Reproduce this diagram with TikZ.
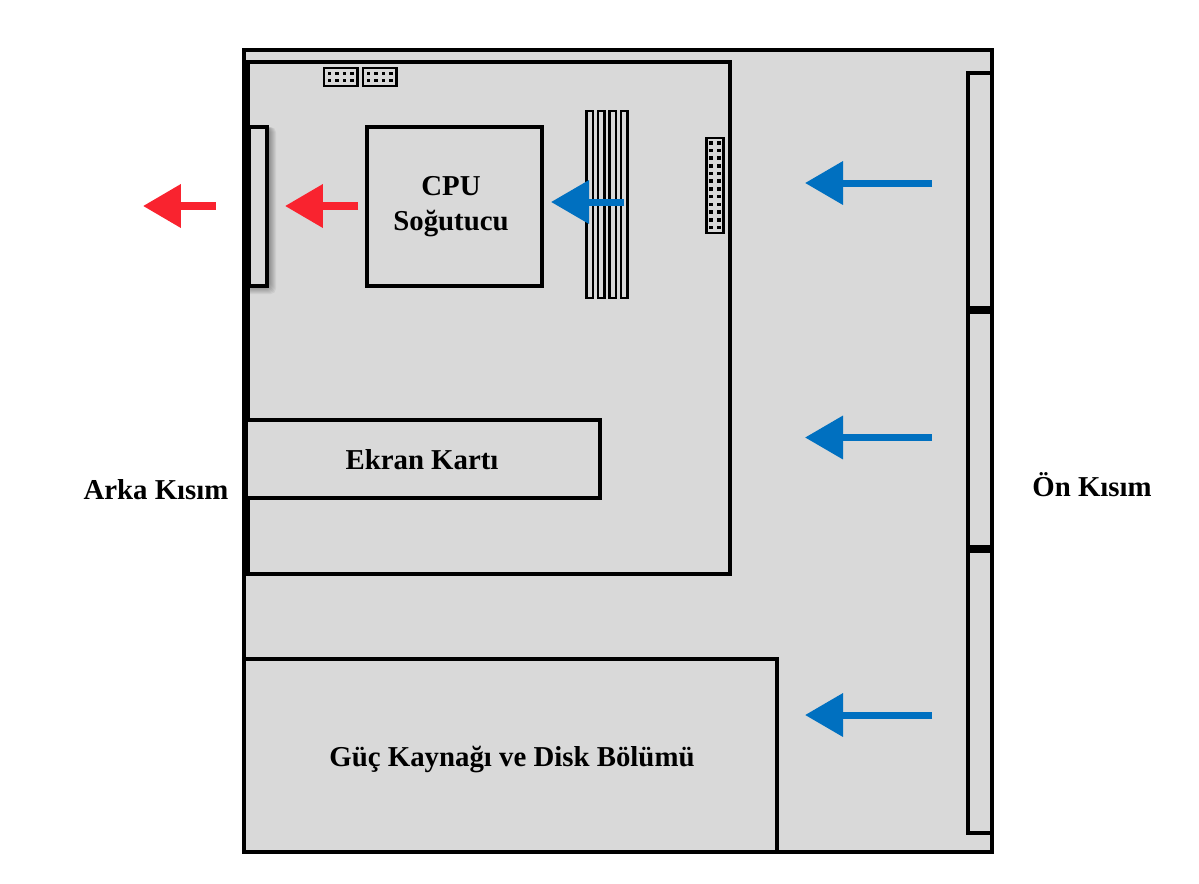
\documentclass[tikz,border=0pt]{standalone}
\usepackage{fontspec}
\setmainfont{Liberation Serif}
\usetikzlibrary{arrows.meta}
\definecolor{cpanel}{HTML}{D9D9D9}
\definecolor{cblue}{HTML}{0070C0}
\definecolor{cred}{HTML}{F9232F}
\tikzset{
  every picture/.style={x=0.02cm, y=-0.02cm},
  box/.style={draw=black, line width=0.07cm, fill=cpanel, line join=miter},
  slot/.style={draw=black, line width=0.045cm, fill=cpanel},
  pin/.style={fill=black},
  title/.style={font=\fontsize{16.4}{20}\selectfont\bfseries, align=center, inner sep=0pt},
  airin/.style={-{Triangle[length=0.76cm, width=0.84cm]}, draw=cblue, line width=0.14cm},
  airout/.style={-{Triangle[length=0.76cm, width=0.84cm]}, draw=cred, line width=0.15cm},
}
\begin{document}
\begin{tikzpicture}
  \useasboundingbox (0,0) rectangle (1199,883);
  % case, power supply, board
  \draw[box] (244,50) rectangle (992,852);
  \draw[box] (244,659) rectangle (777,852);
  \draw[box] (246,62) rectangle (730,574);
  \fill[black] (243,62) rectangle (250,574);
  % shadow of the rear panel
  \foreach \s in {1,...,8}
    \fill[black, opacity=0.05, rounded corners=3pt] (250-\s,127) rectangle (268+\s,286+\s);
  \draw[box, line width=0.065cm] (249,127) rectangle (267,286);
  \fill[black] (243,120) rectangle (250,300);
  % parts on the board
  \draw[box] (367,127) rectangle (542,286);
  \draw[box] (246,420) rectangle (600,498);
  \foreach \x in {586.5,598,609.5,621}
    \draw[slot] (\x,111) rectangle (\x+6.5,298);
  \foreach \x in {324,363} {
    \draw[slot] (\x,68) rectangle (\x+33.5,86);
    \foreach \dx in {5.5,13,20.5,28}
      \foreach \y in {73.5,80.5}
        \fill[pin] (\x+\dx-1.8,\y-1.8) rectangle (\x+\dx+1.8,\y+1.8);
  }
  \draw[slot] (706.5,138) rectangle (723.5,233);
  \foreach \x in {711,719}
    \foreach \n in {0,...,11}
      \fill[pin] (\x-1.8,142.7+\n*7.7-1.8) rectangle (\x+1.8,142.7+\n*7.7+1.8);
  % front panels
  \draw[box] (968,73) rectangle (992,308);
  \draw[box] (968,312) rectangle (992,547);
  \draw[box] (968,551) rectangle (992,833);
  % texts
  \node[title] (cpu) at (451,206.5) {CPU\\Soğutucu};
  \node[title] (gpu) at (422,459.5) {Ekran Kartı};
  \node[title] (psu) at (512,760) {Güç Kaynağı ve Disk Bölümü};
  \node[title] (rear) at (156,490) {Arka Kısım};
  \node[title] (front) at (1092,485) {Ön Kısım};
  % air flow
  \foreach \name/\xa/\xb/\y in {a/932/805/183, b/932/805/437.5, c/932/805/715, d/624/551/202} {
    \coordinate (in\name) at (\xa,\y);
    \coordinate (to\name) at (\xb,\y);
    \draw[airin] (in\name) -- (to\name);
  }
  \foreach \name/\xa/\xb in {e/358/285, f/216/143} {
    \coordinate (in\name) at (\xa,206);
    \coordinate (to\name) at (\xb,206);
    \draw[airout] (in\name) -- (to\name);
  }
\end{tikzpicture}
\end{document}
